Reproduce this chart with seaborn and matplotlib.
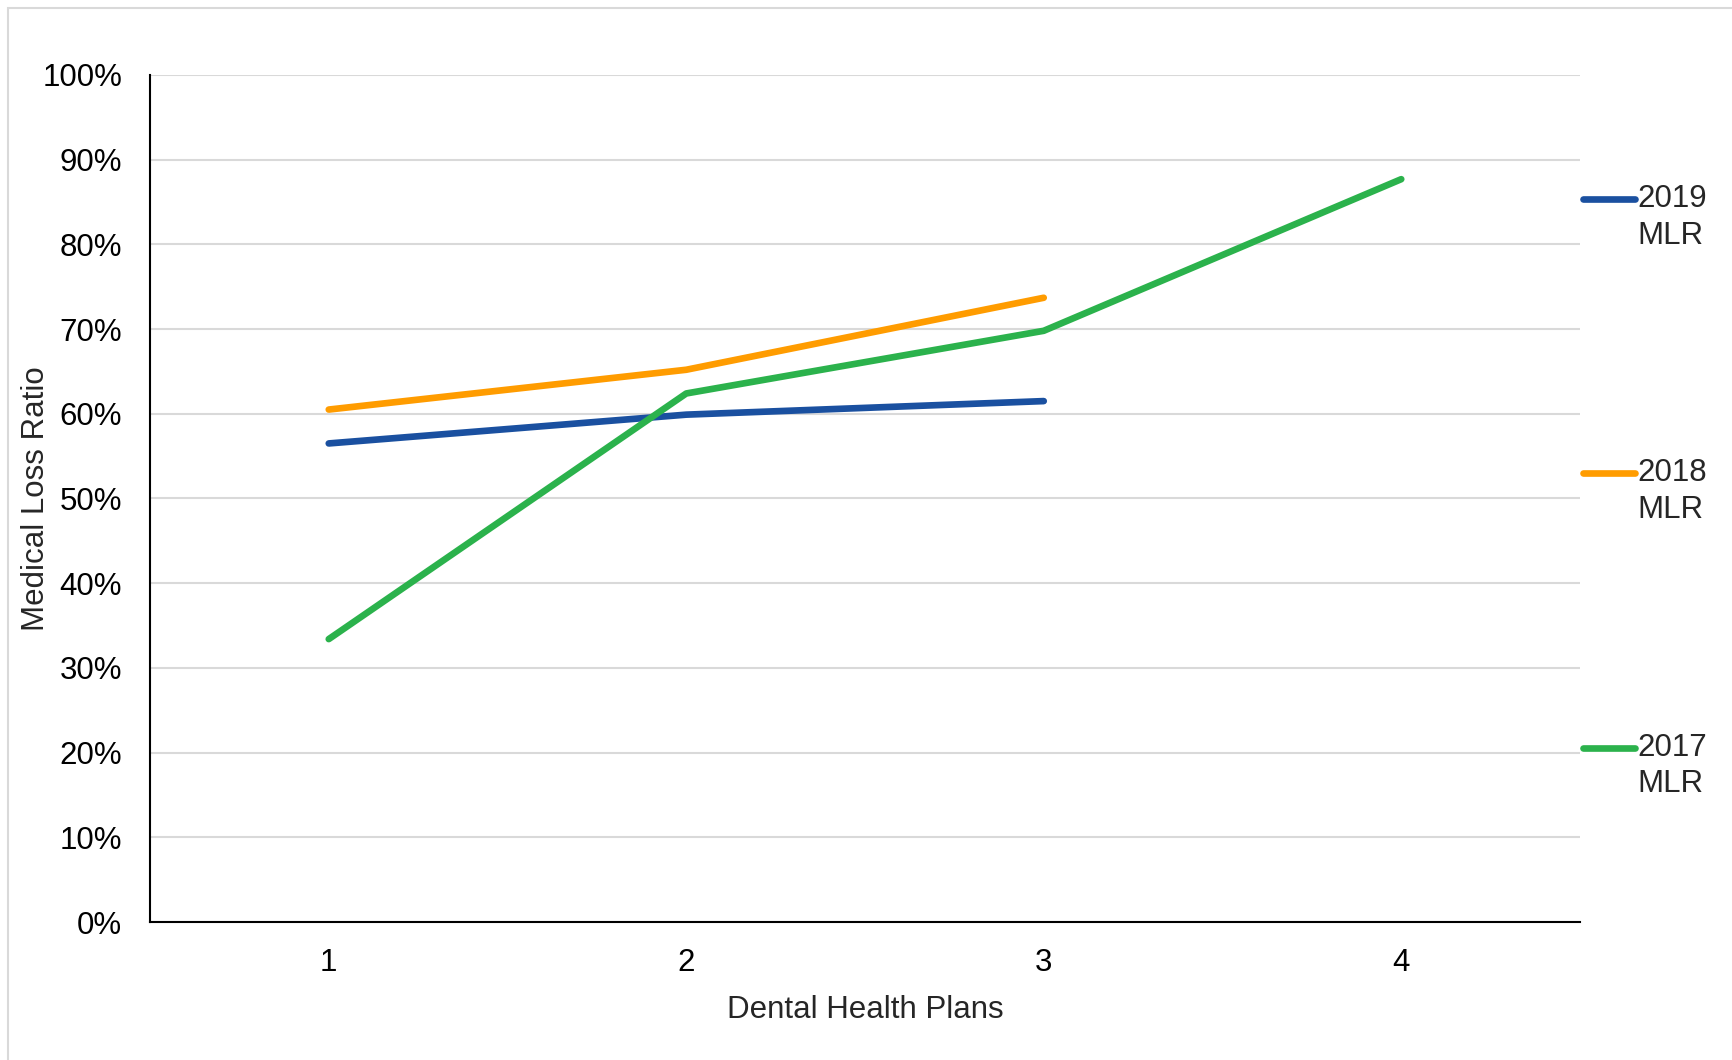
import numpy as np
import pandas as pd
import seaborn as sns
from matplotlib import pyplot as plt
from matplotlib.lines import Line2D
from matplotlib.patches import Rectangle
from matplotlib.ticker import PercentFormatter

# data
plans = [1, 2, 3, 4]
mlr_2019 = [56.5, 59.9, 61.5, np.nan]
mlr_2018 = [60.5, 65.2, 73.7, np.nan]
mlr_2017 = [33.4, 62.4, 69.8, 87.7]
series_names = ['2019\nMLR', '2018\nMLR', '2017\nMLR']
colors = ['#1a50a0', '#ff9c00', '#2bb24c']

df = pd.DataFrame({
    'plan': plans * 3,
    'value': mlr_2019 + mlr_2018 + mlr_2017,
    'series': [series_names[0]] * 4 + [series_names[1]] * 4 + [series_names[2]] * 4,
}).dropna()

sns.set_style("white")
plt.rcParams['font.family'] = ['Liberation Sans', 'DejaVu Sans']
fs = 22.5

fig = plt.figure(figsize=(17.32, 10.60), dpi=100)
ax = fig.add_axes([150/1732, 1 - 922/1060, 1430/1732, 847/1060])

sns.lineplot(data=df, x='plan', y='value', hue='series', hue_order=series_names,
             palette=colors, linewidth=4.8, ax=ax, legend=False, sort=False)
for ln in ax.get_lines():
    ln.set_solid_capstyle('round')

ax.set_xlim(0.5, 4.5)
ax.set_ylim(0, 100)
ax.set_xticks(plans)
ax.set_yticks(range(0, 101, 10))
ax.yaxis.set_major_formatter(PercentFormatter(decimals=0))
ax.grid(axis='y', color='#d9d9d9', linewidth=1.5)
ax.set_axisbelow(True)
for s in ['top', 'right']:
    ax.spines[s].set_visible(False)
for s in ['left', 'bottom']:
    ax.spines[s].set_color('black')
    ax.spines[s].set_linewidth(1.5)
ax.tick_params(axis='both', length=0, labelsize=fs, colors='black')
ax.tick_params(axis='x', pad=19)
ax.tick_params(axis='y', pad=20)
ax.set_xlabel('Dental Health Plans', fontsize=fs, labelpad=12)
ax.set_ylabel('Medical Loss Ratio', fontsize=fs, va='center')
ax.yaxis.set_label_coords(-0.08, 0.5)

# legend on the right, handle aligned with first text line
leg_y = [1 - 199/1060, 1 - 473/1060, 1 - 748/1060]
x0, x1 = 1583/1732, 1635/1732
for name, c, y in zip(series_names, colors, leg_y):
    fig.add_artist(Line2D([x0, x1], [y, y], color=c, lw=4.8,
                          solid_capstyle='round', transform=fig.transFigure))
    top, bottom = name.split('\n')
    fig.text(x1 + 2/1732, y, top, fontsize=fs, va='center', ha='left')
    fig.text(x1 + 2/1732, y - 36.5/1060, bottom, fontsize=fs, va='center', ha='left')

# light frame around the chart
fig.add_artist(Rectangle((8/1732, -0.1), 1.2, 1.1 - 8/1060, fill=False,
                         edgecolor='#d9d9d9', lw=1.5, transform=fig.transFigure))

fig.savefig('out.png', dpi=100)
